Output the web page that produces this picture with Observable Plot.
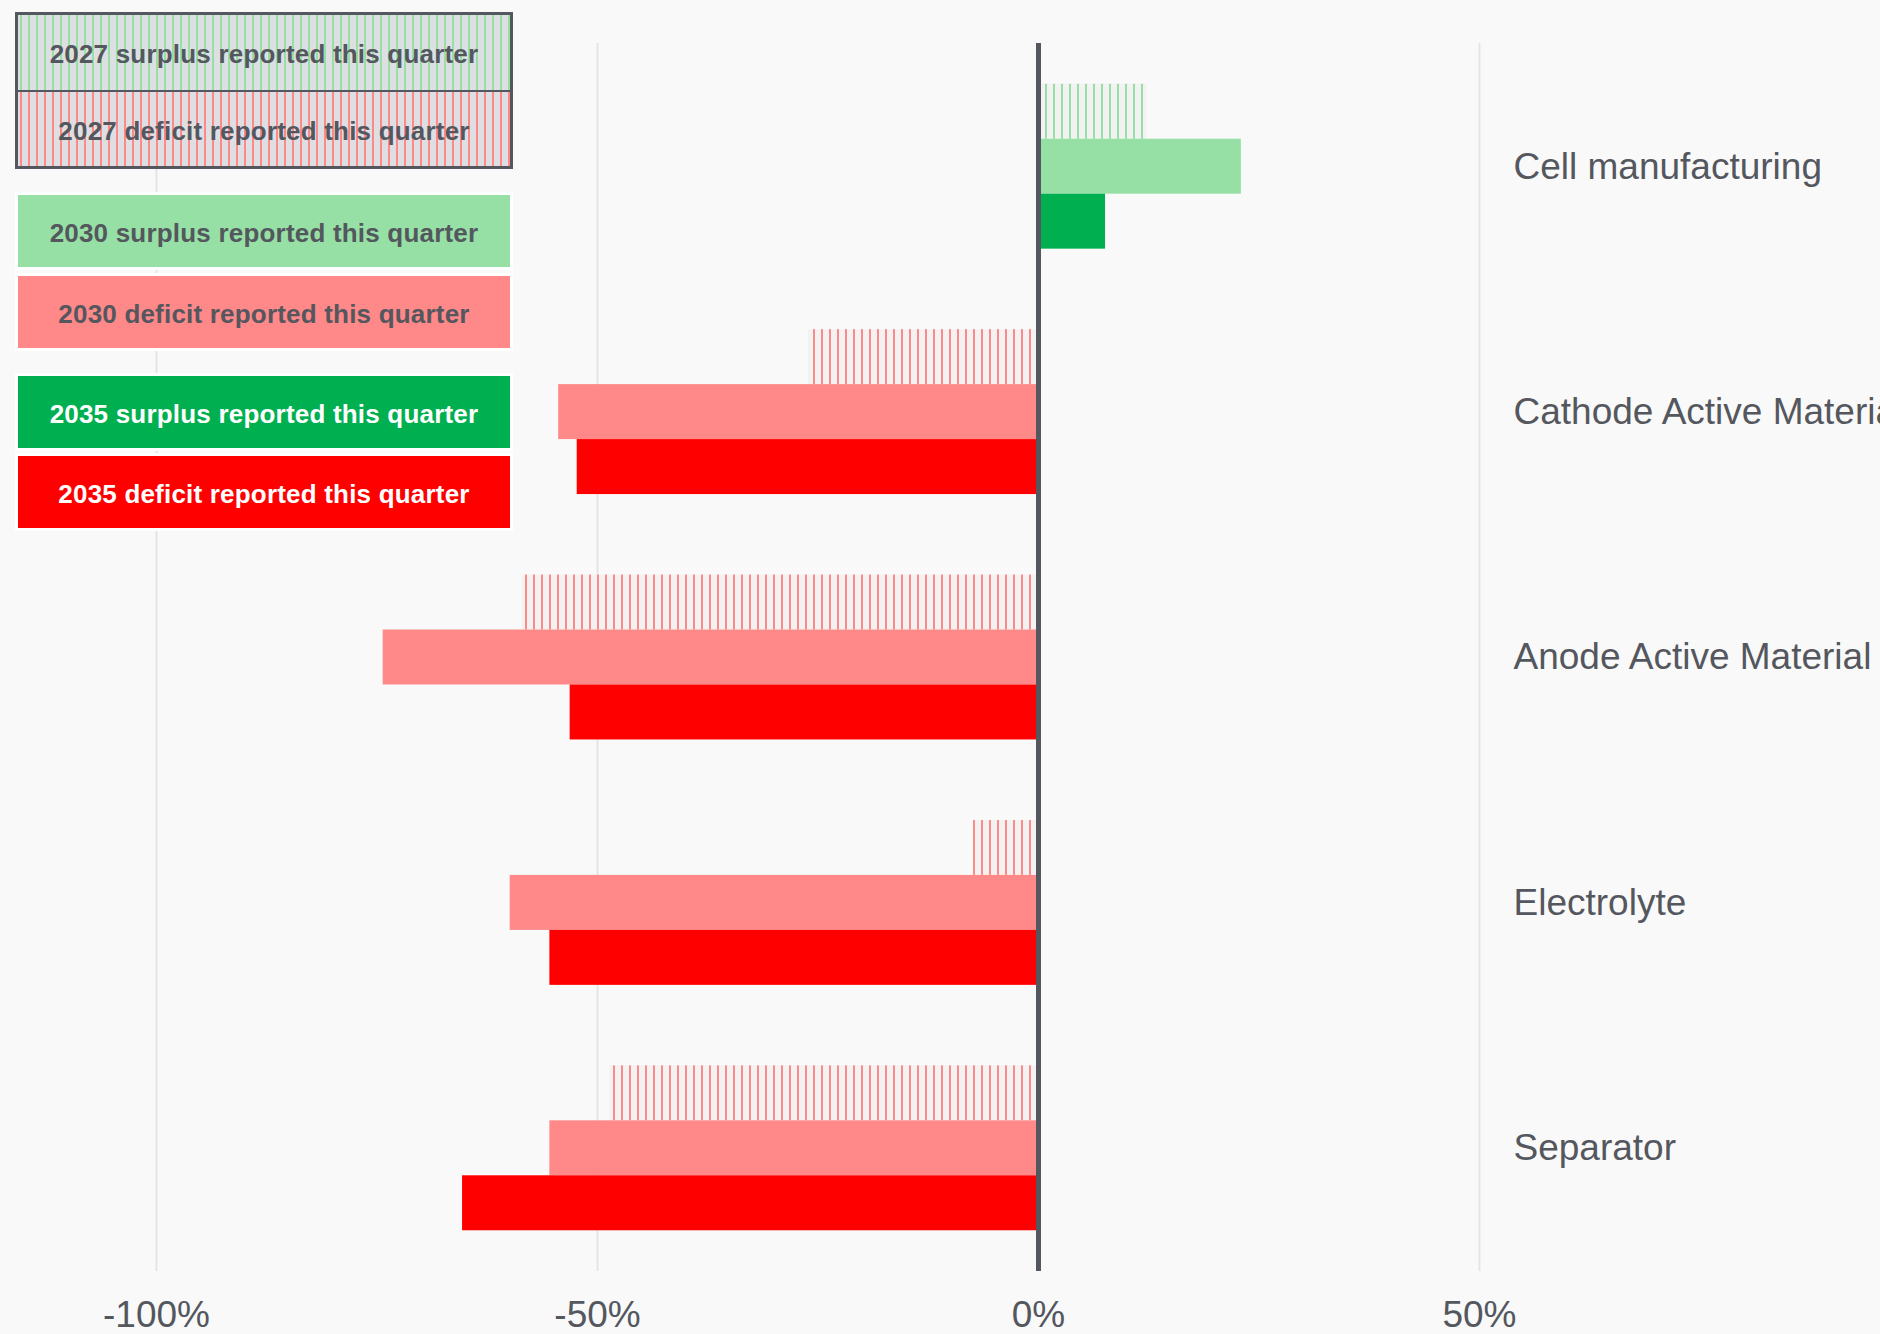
<!DOCTYPE html>
<html>
<head>
<meta charset="utf-8">
<script src="https://cdn.jsdelivr.net/npm/d3@7"></script>
<script src="https://cdn.jsdelivr.net/npm/@observablehq/plot@0.6"></script>
<style>
  html, body { margin: 0; padding: 0; background: #f9f9f9; }
  #wrap { position: relative; width: 1880px; height: 1334px; overflow: hidden; }
  .lg { position: absolute; box-sizing: border-box; font-family: "Liberation Sans", Arial, sans-serif;
        font-weight: bold; font-size: 26px; letter-spacing: 0.2px; }
  .cell { box-sizing: border-box; display: flex; align-items: center; justify-content: center; padding-top: 5px; }
</style>
</head>
<body>
<div id="wrap"></div>
<script>
// ---- data ----
const categories = ["Cell manufacturing", "Cathode Active Material", "Anode Active Material", "Electrolyte", "Separator"];
const values2027 = [12.3, -26.1, -58.5, -7.4, -48.6];
const values2030 = [23.0, -54.4, -74.3, -59.9, -55.4];
const values2035 = [7.6, -52.3, -53.1, -55.4, -65.3];
const tickValues = [-100, -50, 0, 50];
const legendLabels = [
  "2027 surplus reported this quarter", "2027 deficit reported this quarter",
  "2030 surplus reported this quarter", "2030 deficit reported this quarter",
  "2035 surplus reported this quarter", "2035 deficit reported this quarter"
];

// ---- styles ----
const ink = "#54575e";
const surplusLight = "#96e0a5", surplusDark = "#00b050";
const deficitLight = "#ff8888", deficitDark = "#ff0000";

const W = 1880, H = 1334, mt = 43, mb = 63, ml = 156, mr = 401;
const padIn = 0.328, padOut = 0.166;
const step = (H - mt - mb) / (categories.length - padIn + 2 * padOut);
const third = step * (1 - padIn) / 3;

const rows = (vals) => categories.map((c, i) => ({category: c, value: vals[i]}));

const svg = Plot.plot({
  width: W, height: H,
  marginTop: mt, marginBottom: mb, marginLeft: ml, marginRight: mr,
  style: {background: "#f9f9f9", color: ink, fontFamily: "'Liberation Sans', Arial, sans-serif", fontSize: "37px"},
  x: {domain: [-100, 50], ticks: tickValues, tickFormat: d => `${d}%`, tickSize: 0, tickPadding: 29, label: null},
  y: {domain: categories, paddingInner: padIn, paddingOuter: padOut, round: false, axis: "right", tickSize: 0, tickPadding: 34, label: null},
  color: {type: "identity"},
  marks: [
    Plot.ruleX(tickValues.filter(d => d !== 0), {stroke: "#e4e4e4", strokeWidth: 1.8}),
    Plot.barX(rows(values2027), {x: "value", y: "category",
      fill: d => d.value >= 0 ? "url(#hatch-surplus)" : "url(#hatch-deficit)",
      insetTop: 0, insetBottom: 2 * third}),
    Plot.barX(rows(values2030), {x: "value", y: "category",
      fill: d => d.value >= 0 ? surplusLight : deficitLight,
      insetTop: third, insetBottom: third}),
    Plot.barX(rows(values2035), {x: "value", y: "category",
      fill: d => d.value >= 0 ? surplusDark : deficitDark,
      insetTop: 2 * third, insetBottom: 0}),
    Plot.ruleX([0], {stroke: ink, strokeWidth: 5})
  ]
});

const defs = d3.select(svg).insert("defs", ":first-child");
[["hatch-surplus", surplusLight], ["hatch-deficit", deficitLight]].forEach(([id, c]) => {
  const p = defs.append("pattern").attr("id", id).attr("patternUnits", "userSpaceOnUse")
    .attr("width", 8).attr("height", 8);
  p.append("rect").attr("width", 8).attr("height", 8).attr("fill", "#f2f2f2");
  p.append("rect").attr("x", 5).attr("width", 2).attr("height", 8).attr("fill", c);
});

const wrap = document.getElementById("wrap");
wrap.appendChild(svg);

// ---- legend ----
const hatchBg = c => `repeating-linear-gradient(90deg, ${c} 0px, ${c} 2px, #dedfe2 2px, #dedfe2 8px)`;
const box27 = document.createElement("div");
box27.className = "lg";
Object.assign(box27.style, {left: "15px", top: "12px", width: "498px", height: "157px",
  border: `3px solid ${ink}`, display: "flex", flexDirection: "column"});
[[legendLabels[0], surplusLight], [legendLabels[1], deficitLight]].forEach(([t, c], i) => {
  const d = document.createElement("div");
  d.className = "cell";
  Object.assign(d.style, {flex: "1", background: hatchBg(c), backgroundPosition: "2px 0", color: ink,
    borderTop: i ? `2.5px solid ${ink}` : "none"});
  d.textContent = t;
  box27.appendChild(d);
});
wrap.appendChild(box27);

const solidBoxes = [
  {label: legendLabels[2], bg: surplusLight, color: ink, top: 192},
  {label: legendLabels[3], bg: deficitLight, color: ink, top: 273},
  {label: legendLabels[4], bg: surplusDark, color: "#ffffff", top: 373},
  {label: legendLabels[5], bg: deficitDark, color: "#ffffff", top: 453}
];
solidBoxes.forEach(b => {
  const d = document.createElement("div");
  d.className = "lg cell";
  Object.assign(d.style, {left: "15px", top: b.top + "px", width: "498px", height: "78px",
    border: "3px solid #ffffff", background: b.bg, color: b.color});
  d.textContent = b.label;
  wrap.appendChild(d);
});
</script>
</body>
</html>
